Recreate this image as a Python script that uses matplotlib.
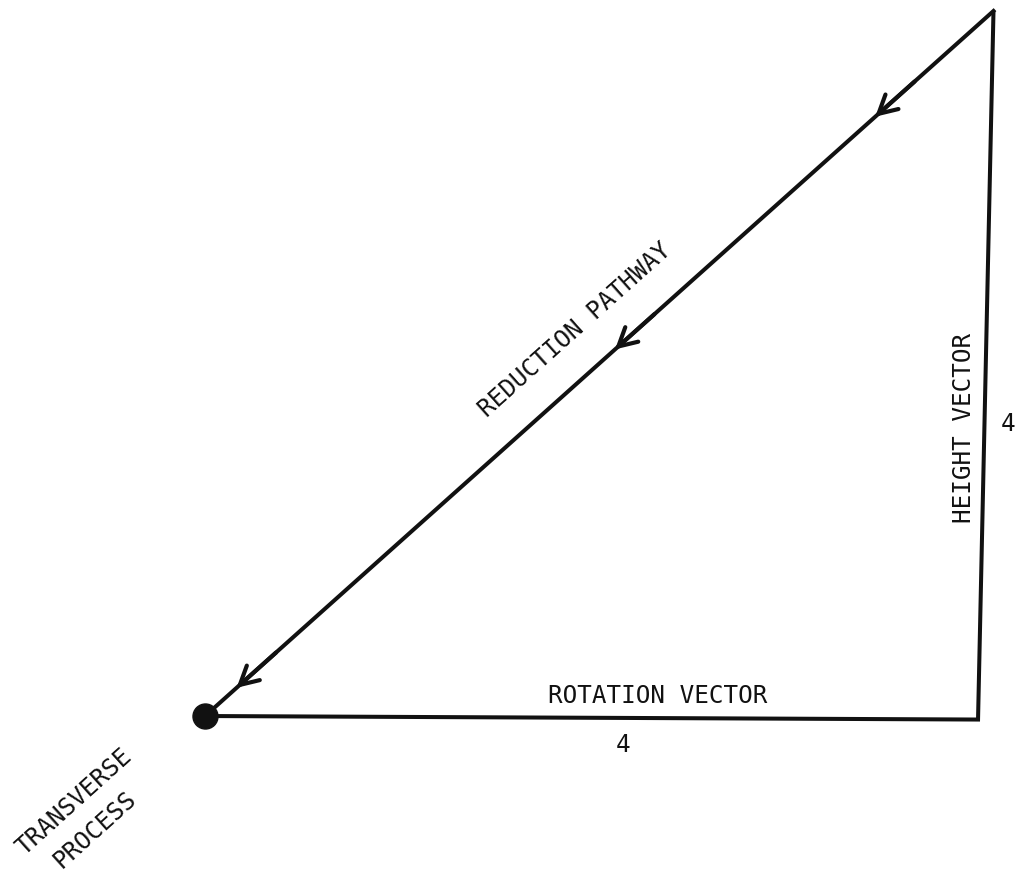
import matplotlib
matplotlib.use('Agg')
import matplotlib.pyplot as plt
import numpy as np

# 三角形顶点（单位：向量长度）
corner_names = ['transverse', 'rotation_end', 'height_end']
corner_x = [0.0, 4.0, 4.08]
corner_y = [0.0, -0.02, 4.0]
side_labels = ['4', '4']
# 复位路径上箭头的位置（从右上角起的比例）
arrow_fracs = [0.15, 0.48, 0.96]

plt.rcParams['font.family'] = ['DejaVu Sans Mono', 'DejaVu Sans']

fig = plt.figure(figsize=(10.19, 8.79), dpi=100)
ax = fig.add_axes([0, 0, 1, 1])
ax.set_xlim(-1.061, 4.212)
ax.set_ylim(-0.919, 4.068)
ax.axis('off')

ink = '#111111'
lw = 2.9

# 旋转向量（底边）和高度向量（右边）
ax.plot(corner_x[:3], corner_y[:3], color=ink, lw=lw, solid_capstyle='butt', solid_joinstyle='miter')
# 复位路径（斜边）
ax.plot([corner_x[2], corner_x[0]], [corner_y[2], corner_y[0]], color=ink, lw=lw)

# 斜边上的开口箭头
x0, y0 = corner_x[2], corner_y[2]
x1, y1 = corner_x[0], corner_y[0]
for f in arrow_fracs:
    px = x0 + (x1 - x0) * f
    py = y0 + (y1 - y0) * f
    qx = x0 + (x1 - x0) * (f - 0.05)
    qy = y0 + (y1 - y0) * (f - 0.05)
    ax.annotate('', xy=(px, py), xytext=(qx, qy),
                arrowprops=dict(arrowstyle='->,head_length=1.3,head_width=0.7',
                                color=ink, lw=3.0, shrinkA=0, shrinkB=0))

# 横突（圆点）
ax.plot(corner_x[0], corner_y[0], 'o', color=ink, markersize=18)

fs = 17.5
ax.text(1.915, 2.196, 'REDUCTION PATHWAY', rotation=41.8, ha='center', va='center',
        fontsize=fs, color=ink, rotation_mode='anchor')
ax.text(3.928, 1.64, 'HEIGHT VECTOR', rotation=90, ha='center', va='center',
        fontsize=fs, color=ink)
ax.text(4.155, 1.66, side_labels[1], ha='center', va='center', fontsize=fs, color=ink)
ax.text(2.344, 0.119, 'ROTATION VECTOR', ha='center', va='center', fontsize=fs, color=ink)
ax.text(2.163, -0.159, side_labels[0], ha='center', va='center', fontsize=fs, color=ink)
ax.text(-0.678, -0.482, 'TRANSVERSE', rotation=42, ha='center', va='center',
        fontsize=fs, color=ink, rotation_mode='anchor')
ax.text(-0.569, -0.641, 'PROCESS', rotation=42, ha='center', va='center',
        fontsize=fs, color=ink, rotation_mode='anchor')

fig.savefig('out.png', dpi=100)
